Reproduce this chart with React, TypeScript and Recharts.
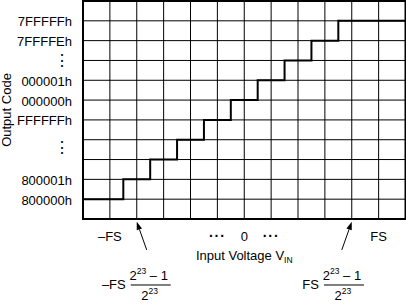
import React from 'react'
import {
  LineChart,
  Line,
  XAxis,
  YAxis,
  CartesianGrid,
  ReferenceArea,
  ReferenceLine,
  ReferenceDot,
} from 'recharts'

const FONT = '"Liberation Sans", Arial, Helvetica, sans-serif'

// Transfer curve, x in grid columns of input voltage, y in grid rows of output code
const inputVoltage = [0, 1.5, 2.5, 3.5, 4.5, 5.5, 6.5, 7.5, 8.5, 9.5, 12]
const outputCode = [1, 2, 3, 4, 5, 6, 7, 8, 9, 10, 10]

const gridCols = [0, 1, 2, 3, 4, 5, 6, 7, 8, 9, 10, 11, 12]
const gridRows = [0, 1, 2, 3, 4, 5, 6, 7, 8, 9, 10, 11]

const codeTicks = [1, 2, 3.65, 5, 6, 7, 8, 9, 10]
const codeLabels = ['800000h', '800001h', '⋮', 'FFFFFFh', '000000h', '000001h', '⋮', '7FFFFEh', '7FFFFFh']

const voltageTicks = [1, 5, 6, 7, 11]
const voltageLabels = ['–FS', '···', '0', '···', 'FS']

// Callouts under the x axis
const arrowTails = [{ x: 2.37, y: -1.56 }, { x: 9.63, y: -1.56 }]
const arrowHeads = [{ x: 2, y: -0.14 }, { x: 10, y: -0.14 }]
const calloutX = [2.52, 9.71]
const calloutY = -3.33
const calloutPrefix = ['–FS', 'FS']

const chartData = inputVoltage.map((v, i) => ({ v, code: outputCode[i] }))

function CodeTick(props: { x?: number; y?: number; payload?: { value: number } }) {
  const { x = 0, y = 0, payload } = props
  const idx = codeTicks.indexOf(payload?.value ?? -1)
  const label = codeLabels[idx]
  const isDots = label === '⋮'
  return (
    <text
      x={isDots ? x - 2 : x}
      y={y + (isDots ? 6 : 5.5)}
      textAnchor="end"
      fontFamily={FONT}
      fontSize={isDots ? 16 : 13}
      fill="#000"
    >
      {label}
    </text>
  )
}

function VoltageTick(props: { x?: number; y?: number; payload?: { value: number } }) {
  const { x = 0, y = 0, payload } = props
  const idx = voltageTicks.indexOf(payload?.value ?? -1)
  const label = voltageLabels[idx]
  const isDots = label === '···'
  return (
    <text
      x={x}
      y={y + 9.3}
      textAnchor="middle"
      fontFamily={FONT}
      fontSize={isDots ? 14 : 13}
      fontWeight={isDots ? 'bold' : 'normal'}
      fill="#000"
      letterSpacing={isDots ? 1 : 0}
    >
      {label}
    </text>
  )
}

function Arrow(props: { x1?: number; y1?: number; x2?: number; y2?: number }) {
  const { x1 = 0, y1 = 0, x2 = 0, y2 = 0 } = props
  const ang = Math.atan2(y2 - y1, x2 - x1)
  const len = 8
  const half = 2.8
  const bx = x2 - len * Math.cos(ang)
  const by = y2 - len * Math.sin(ang)
  const px = -Math.sin(ang) * half
  const py = Math.cos(ang) * half
  return (
    <g>
      <line x1={x1} y1={y1} x2={bx} y2={by} stroke="#000" strokeWidth={1} />
      <polygon points={`${x2},${y2} ${bx + px},${by + py} ${bx - px},${by - py}`} fill="#000" />
    </g>
  )
}

function Fraction({ cx = 0, cy = 0, prefix }: { cx?: number; cy?: number; prefix: string }) {
  return (
    <g fontFamily={FONT} fill="#000">
      <text x={cx - 25} y={cy + 4.5} textAnchor="end" fontSize={13}>
        {prefix}
      </text>
      <line x1={cx - 20} y1={cy} x2={cx + 20} y2={cy} stroke="#000" strokeWidth={1} />
      <text x={cx - 2} y={cy - 5} textAnchor="middle" fontSize={13}>
        2
        <tspan fontSize={8.5} dy={-6}>23</tspan>
        <tspan dy={6}> – 1</tspan>
      </text>
      <text x={cx - 1} y={cy + 15} textAnchor="middle" fontSize={13}>
        2
        <tspan fontSize={8.5} dy={-6}>23</tspan>
      </text>
    </g>
  )
}

export default function App() {
  return (
    <div style={{ position: 'absolute', left: 0, top: 0, width: 406, height: 306, background: '#fff' }}>
      <LineChart
        width={406}
        height={306}
        data={chartData}
        margin={{ top: 1, right: 0.5, bottom: 57, left: 0 }}
      >
        <CartesianGrid
          stroke="#000"
          strokeWidth={1}
          verticalValues={gridCols}
          horizontalValues={gridRows}
        />
        <XAxis
          dataKey="v"
          type="number"
          domain={[0, 12]}
          ticks={voltageTicks}
          interval={0}
          allowDataOverflow
          axisLine={false}
          tickLine={false}
          tickSize={0}
          tickMargin={13}
          height={30}
          tick={<VoltageTick />}
          label={{
            content: (p: { viewBox?: { x: number; y: number; width: number } }) => {
              const vb = p.viewBox ?? { x: 0, y: 0, width: 0 }
              return (
                <text x={vb.x + vb.width / 2} y={vb.y + 41} textAnchor="middle" fontFamily={FONT} fontSize={13} fill="#000">
                  Input Voltage V
                  <tspan fontSize={8.5} dy={3}>IN</tspan>
                </text>
              )
            },
          }}
        />
        <YAxis
          type="number"
          domain={[0, 11]}
          ticks={codeTicks}
          interval={0}
          allowDataOverflow
          axisLine={false}
          tickLine={false}
          tickSize={0}
          tickMargin={11}
          width={83}
          tick={<CodeTick />}
          label={{
            content: (p: { viewBox?: { x: number; y: number; height: number } }) => {
              const vb = p.viewBox ?? { x: 0, y: 0, height: 0 }
              const cx = vb.x + 11
              const cy = vb.y + vb.height / 2
              return (
                <text
                  x={cx}
                  y={cy}
                  transform={`rotate(-90 ${cx} ${cy})`}
                  textAnchor="middle"
                  fontFamily={FONT}
                  fontSize={13}
                  fill="#000"
                >
                  Output Code
                </text>
              )
            },
          }}
        />
        <ReferenceArea x1={0} x2={12} y1={0} y2={11} fill="none" stroke="#000" strokeWidth={2} ifOverflow="visible" />
        <Line
          type="stepAfter"
          dataKey="code"
          stroke="#000"
          strokeWidth={2}
          dot={false}
          activeDot={false}
          isAnimationActive={false}
        />
        {arrowTails.map((t, i) => (
          <ReferenceLine
            key={`arrow-${i}`}
            segment={[t, arrowHeads[i]]}
            ifOverflow="visible"
            shape={(p: any) => <Arrow {...p} />}
          />
        ))}
        {calloutX.map((x, i) => (
          <ReferenceDot
            key={`frac-${i}`}
            x={x}
            y={calloutY}
            r={0}
            ifOverflow="visible"
            shape={(p: any) => <Fraction cx={p.cx} cy={p.cy} prefix={calloutPrefix[i]} />}
          />
        ))}
      </LineChart>
    </div>
  )
}
